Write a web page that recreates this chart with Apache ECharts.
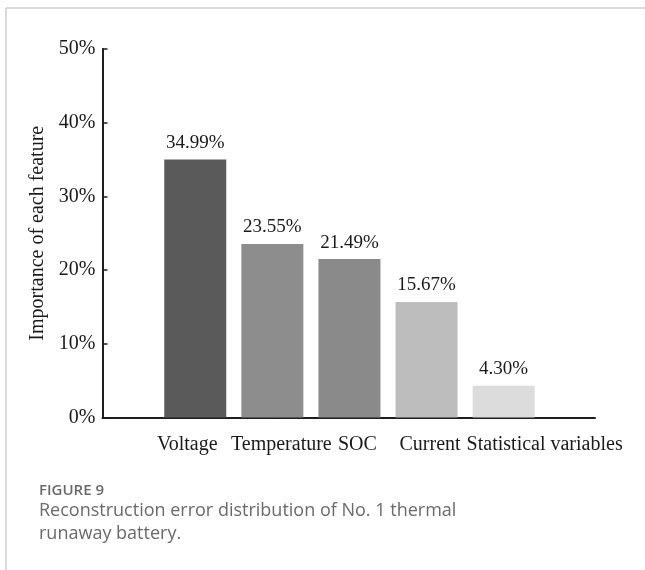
<!DOCTYPE html>
<html>
<head>
<meta charset="utf-8" />
<script src="https://cdn.jsdelivr.net/npm/echarts@6/dist/echarts.min.js"></script>
<style>
  html, body { margin: 0; padding: 0; background: #fff; }
  #chart { width: 645px; height: 570px; }
</style>
</head>
<body>
<div id="chart"></div>
<script>
// data
const categories = ["Voltage", "Temperature", "SOC", "Current", "Statistical variables"];
const importance = [34.99, 23.55, 21.49, 15.67, 4.3];
const yTicks = [0, 10, 20, 30, 40, 50];

// grey shades of the bars
const barColors = ["#5a5a5a", "#8d8d8d", "#8a8a8a", "#bdbdbd", "#dcdcdc"];
// label nudges (left pad, right pad) so the names sit like in the figure
const labelPad = [[0, 16], [18, 0], [16, 0], [7, 0], [82, 0]];

const serif = "'Liberation Serif', 'Times New Roman', serif";
const sans = "'Open Sans', 'Noto Sans', sans-serif";

let chart = echarts.init(document.getElementById("chart"));

let option = {
  animation: false,
  grid: [
    // axes frame
    { left: 102.5, right: 50, top: 49, bottom: 152.5 },
    // bars
    { left: 156.7, right: 102.8, top: 49, bottom: 152.5 },
  ],
  xAxis: [
    {
      gridIndex: 0,
      type: "value",
      min: 0,
      max: 1,
      axisLine: { show: true, onZero: false, lineStyle: { color: "#1e1e1e", width: 2 } },
      axisTick: { show: false },
      axisLabel: { show: false },
      splitLine: { show: false },
    },
    {
      gridIndex: 1,
      type: "category",
      data: categories.map((c, i) => ({
        value: c,
        textStyle: { padding: [0, labelPad[i][1], 0, labelPad[i][0]] },
      })),
      axisLine: { show: false },
      axisTick: {
        show: true,
        inside: true,
        length: 5,
        alignWithLabel: true,
        lineStyle: { color: "#1e1e1e", width: 1.5 },
      },
      axisLabel: {
        interval: 0,
        margin: 17,
        color: "#1a1a1a",
        fontSize: 20,
        fontFamily: serif,
      },
      splitLine: { show: false },
    },
  ],
  yAxis: [
    {
      gridIndex: 0,
      type: "value",
      min: yTicks[0],
      max: yTicks[yTicks.length - 1],
      interval: yTicks[1] - yTicks[0],
      name: "Importance of each feature",
      nameLocation: "middle",
      nameGap: 55,
      nameTextStyle: { color: "#1a1a1a", fontSize: 20, fontFamily: serif },
      axisLine: { show: true, lineStyle: { color: "#1e1e1e", width: 2 } },
      axisTick: { show: true, inside: true, length: 5, lineStyle: { color: "#1e1e1e", width: 1.5 } },
      axisLabel: {
        margin: 7,
        color: "#1a1a1a",
        fontSize: 20,
        fontFamily: serif,
        formatter: "{value}%",
      },
      splitLine: { show: false },
    },
    {
      gridIndex: 1,
      type: "value",
      min: yTicks[0],
      max: yTicks[yTicks.length - 1],
      show: false,
    },
  ],
  series: [
    {
      type: "bar",
      xAxisIndex: 1,
      yAxisIndex: 1,
      barWidth: 62,
      data: importance,
      itemStyle: {
        color: (p) => barColors[p.dataIndex],
      },
      label: {
        show: true,
        position: "top",
        distance: 7,
        color: "#1a1a1a",
        fontSize: 19,
        fontFamily: serif,
        formatter: (p) => p.value.toFixed(2) + "%",
      },
    },
  ],
  graphic: [
    // card frame
    { type: "line", shape: { x1: 6, y1: 8, x2: 645, y2: 8 }, style: { stroke: "#cfcfcf", lineWidth: 1.5 } },
    { type: "line", shape: { x1: 6, y1: 8, x2: 6, y2: 570 }, style: { stroke: "#cfcfcf", lineWidth: 1.5 } },
    // caption
    {
      type: "text",
      left: 39,
      top: 483,
      style: { text: "FIGURE 9", fill: "#6a6a6a", font: "600 15px " + sans },
    },
    {
      type: "text",
      left: 39,
      top: 499,
      style: {
        text: "Reconstruction error distribution of No. 1 thermal\nrunaway battery.",
        fill: "#6a6a6a",
        font: "18px " + sans,
        lineHeight: 23,
      },
    },
  ],
};

chart.setOption(option);
</script>
</body>
</html>
